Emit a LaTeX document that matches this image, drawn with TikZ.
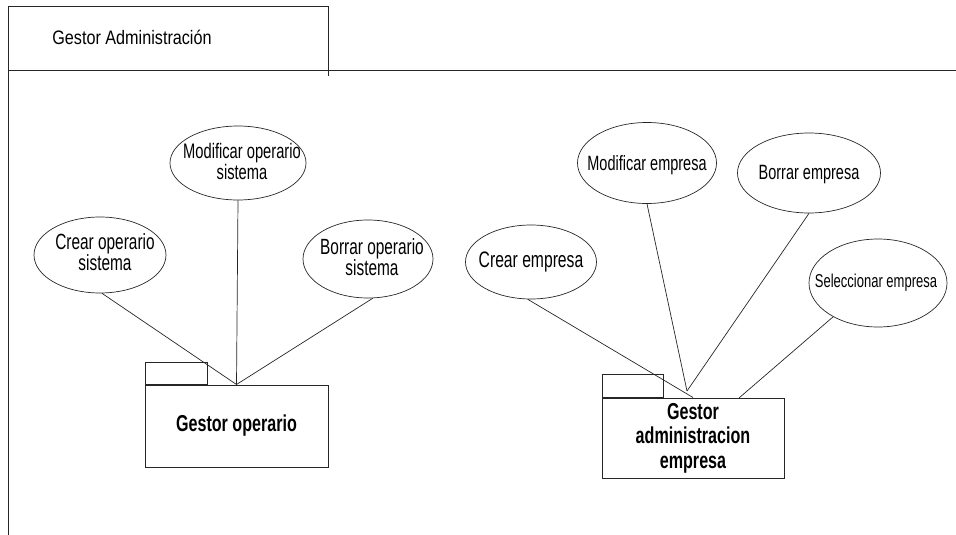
\documentclass[tikz,border=0pt]{standalone}
\usepackage{fontspec}
\setmainfont{Liberation Sans}[FakeStretch=0.70]
\newfontfamily\headfont{Liberation Sans}[FakeStretch=0.83]
\usetikzlibrary{shapes.geometric}

\begin{document}
\begin{tikzpicture}[x=1pt,y=-1pt,
  frame/.style={line width=1pt, draw=black!85},
  conn/.style={line width=0.7pt, draw=black!85},
  uc/.style={ellipse, draw=black!85, line width=0.7pt, inner sep=0pt},
  uctext/.style={align=center, inner sep=0pt, font=\fontsize{22}{21}\selectfont},
  pkgbox/.style={draw=black!85, line width=1pt, inner sep=0pt, align=center,
    font=\fontsize{23}{24.5}\selectfont\bfseries},
  pkgtab/.style={draw=black!85, line width=1pt, inner sep=0pt, anchor=south west}]
\useasboundingbox (0,0) rectangle (956,535);

% outer frame and title compartment
\draw[frame] (8,535) -- (8,7) -- (328,7) -- (328,76);
\draw[frame] (8,71) -- (956,71);
\node[font=\headfont\fontsize{19.5}{24}\selectfont] (title) at (132,37) {Gestor Administración};

% use cases: operarios
\node[uc, minimum width=132, minimum height=76,
  path picture={\node[uctext] at ([xshift=5pt,yshift=3pt]path picture bounding box.center) {Crear operario\\sistema};}]
  (crearOp) at (100,255) {};
\node[uc, minimum width=136, minimum height=74,
  path picture={\node[uctext, font=\fontsize{21}{21}\selectfont] at ([xshift=4pt,yshift=2pt]path picture bounding box.center) {Modificar operario\\sistema};}]
  (modOp) at (238,163) {};
\node[uc, minimum width=130, minimum height=78,
  path picture={\node[uctext] at ([xshift=4pt,yshift=2pt]path picture bounding box.center) {Borrar operario\\sistema};}]
  (borrarOp) at (368,259) {};

% use cases: empresas
\node[uc, minimum width=131, minimum height=74,
  path picture={\node[uctext, font=\fontsize{22.4}{21}\selectfont] at (path picture bounding box.center) {Crear empresa};}]
  (crearEmp) at (531,262) {};
\node[uc, minimum width=139, minimum height=81,
  path picture={\node[uctext, font=\fontsize{20.7}{21}\selectfont] at ([yshift=-2pt]path picture bounding box.center) {Modificar empresa};}]
  (modEmp) at (647,163) {};
\node[uc, minimum width=143, minimum height=80,
  path picture={\node[uctext, font=\fontsize{20.7}{21}\selectfont] at ([yshift=-2pt]path picture bounding box.center) {Borrar empresa};}]
  (borrarEmp) at (809,173) {};
\node[uc, minimum width=138, minimum height=88,
  path picture={\node[uctext, font=\fontsize{18.6}{21}\selectfont] at ([xshift=-2pt]path picture bounding box.center) {Seleccionar empresa};}]
  (selEmp) at (878,283) {};

% packages
\node[pkgbox, minimum width=183, minimum height=82] (gOp) at (236.5,426) {Gestor operario};
\node[pkgtab, minimum width=62, minimum height=22] (gOpTab) at (gOp.north west) {};
\node[pkgbox, minimum width=182, minimum height=80] (gEmp) at (693,438) {Gestor\\administracion\\empresa};
\node[pkgtab, minimum width=61, minimum height=23] (gEmpTab) at (gEmp.north west) {};

% meeting points on the package tops
\coordinate (empApex) at (687,391);
\coordinate (selJoin) at (739,398);

% connectors
\draw[conn] (crearOp.-87) -- (gOp.north);
\draw[conn] (modOp.south) -- (gOp.north);
\draw[conn] (borrarOp.-83) -- (gOp.north);
\draw[conn] (crearEmp.-95) -- (gEmp.north);
\draw[conn] (modEmp.south) -- (empApex);
\draw[conn] (borrarEmp.south) -- (empApex);
\draw[conn] (selEmp.-143) -- (selJoin);
\end{tikzpicture}
\end{document}
